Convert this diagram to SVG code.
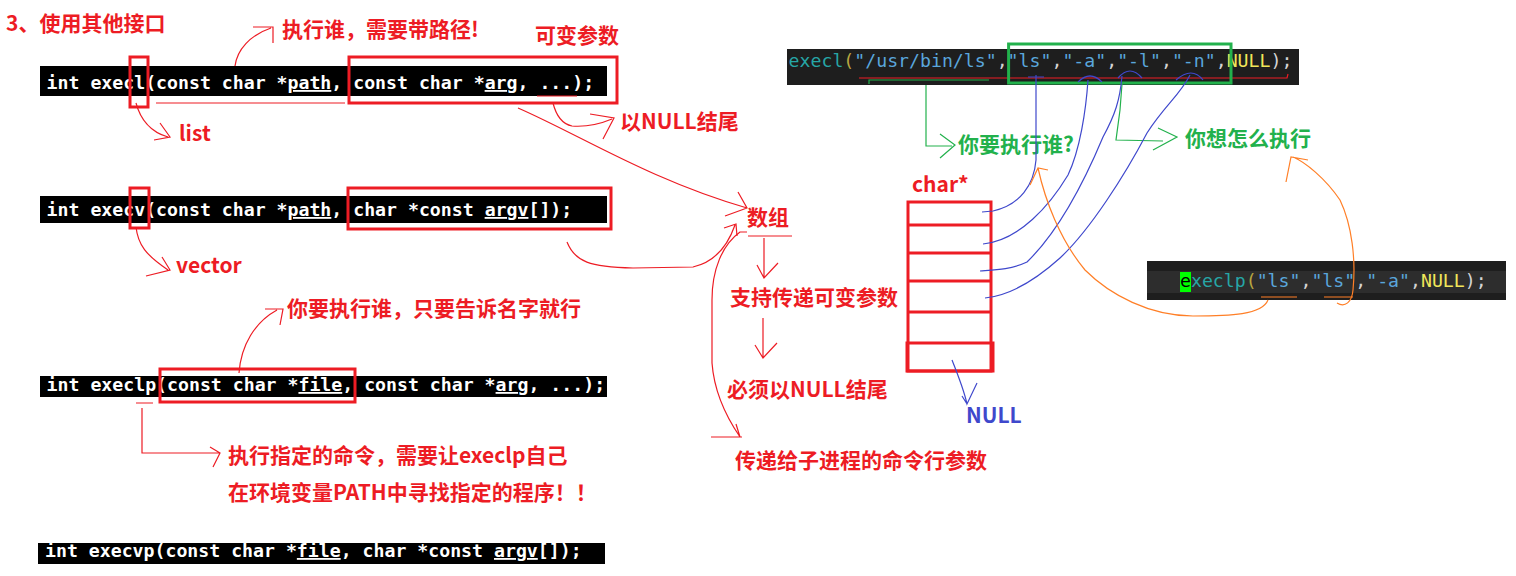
<svg xmlns="http://www.w3.org/2000/svg" width="1516" height="576" viewBox="0 0 1516 576">
<style>
.lbl{font-family:"Noto Sans CJK SC","Noto Sans",sans-serif;font-weight:700;font-size:21px;fill:#ed1c24}
.grn{fill:#22b14c}
.blu{fill:#3f48cc}
.code{font-family:"DejaVu Sans Mono",monospace;font-weight:700;font-size:18.2px;fill:#ffffff;white-space:pre}
.code2{font-family:"DejaVu Sans Mono",monospace;font-size:18.2px;white-space:pre}
.u{text-decoration:underline}
.bar{fill:#000000}
.rbox{fill:none;stroke:#ed1c24;stroke-width:3}
.gbox{fill:none;stroke:#22b14c;stroke-width:3}
.rl{fill:none;stroke:#ed1c24;stroke-width:1.2}
.gl{fill:none;stroke:#22b14c;stroke-width:1.2}
.bl{fill:none;stroke:#3f48cc;stroke-width:1.2}
.ol{fill:none;stroke:#ff7f27;stroke-width:1.2}
.fn{fill:#26a6a6}.pr{fill:#b8a640}.st{fill:#5aa6dc}.cm{fill:#d4d4d4}.nl{fill:#f0e65a}
</style>
<rect width="1516" height="576" fill="#ffffff"/>

<g id="title"><text class="lbl" x="6" y="31">3、使用其他接口</text></g>

<g id="execl">
<rect class="bar" x="40" y="66" width="567" height="30"/>
<text class="code" x="46.6" y="89">int execl(const char *<tspan class="u">path</tspan>, const char *<tspan class="u">arg</tspan>, ...);</text>
<rect class="rbox" x="130" y="57" width="18" height="50"/>
<rect class="rbox" x="349" y="57" width="268" height="46"/>
</g>
<g id="execv">
<rect class="bar" x="40" y="196" width="567" height="27"/>
<text class="code" x="46.6" y="216">int execv(const char *<tspan class="u">path</tspan>, char *const <tspan class="u">argv</tspan>[]);</text>
<rect class="rbox" x="130" y="188" width="19" height="40"/>
<rect class="rbox" x="348" y="188" width="263" height="41"/>
</g>
<g id="execlp">
<rect class="bar" x="40" y="376" width="567" height="21"/>
<text class="code" x="46.6" y="391">int execlp(const char *<tspan class="u">file</tspan>, const char *<tspan class="u">arg</tspan>, ...);</text>
<rect class="rbox" x="160" y="369" width="195" height="33"/>
</g>
<g id="execvp">
<rect class="bar" x="38" y="543" width="567" height="21"/>
<text class="code" x="45" y="557">int execvp(const char *<tspan class="u">file</tspan>, char *const <tspan class="u">argv</tspan>[]);</text>
</g>

<g id="labels-left">
<text class="lbl" x="282" y="37">执行谁，需要带路径!</text>
<text class="lbl" x="535" y="43">可变参数</text>
<text class="lbl" x="179" y="141">list</text>
<text class="lbl" x="620" y="129">以NULL结尾</text>
<text class="lbl" x="176" y="273">vector</text>
<text class="lbl" x="287" y="316">你要执行谁，只要告诉名字就行</text>
<text class="lbl" x="228" y="463">执行指定的命令，需要让execlp自己</text>
<text class="lbl" x="228" y="500">在环境变量PATH中寻找指定的程序！！</text>
</g>

<g id="array-notes">
<text class="lbl" x="747" y="225">数组</text>
<text class="lbl" x="730" y="305">支持传递可变参数</text>
<text class="lbl" x="727" y="397">必须以NULL结尾</text>
<text class="lbl" x="735" y="468">传递给子进程的命令行参数</text>
</g>

<g id="array">
<text class="lbl" x="912" y="192" font-size="19">char*</text>
<rect class="rbox" x="908" y="202" width="83" height="169"/>
<path class="rbox" d="M908,225H991M908,253H991M908,281H991M908,312H991"/>
<rect class="rbox" x="907" y="343" width="86" height="28"/>
<text class="lbl blu" x="966" y="423" font-size="20">NULL</text>
</g>

<g id="execl-example">
<rect x="787" y="49" width="512" height="36" fill="#1e1e1e"/>
<text class="code2" x="788.6" y="67"><tspan class="fn">execl</tspan><tspan class="pr">(</tspan><tspan class="st">"/usr/bin/ls"</tspan><tspan class="cm">,</tspan><tspan class="st">"ls"</tspan><tspan class="cm">,</tspan><tspan class="st">"-a"</tspan><tspan class="cm">,</tspan><tspan class="st">"-l"</tspan><tspan class="cm">,</tspan><tspan class="st">"-n"</tspan><tspan class="cm">,</tspan><tspan class="nl">NULL</tspan><tspan class="cm">);</tspan></text>
<path class="rl" d="M859,78L1287,78L1288,74"/>
<path class="gl" d="M869,84L869,80L989,80"/>
<rect class="gbox" x="1008.6" y="44" width="222.4" height="39"/>
<text class="lbl grn" x="958" y="152">你要执行谁?</text>
<text class="lbl grn" x="1185" y="146">你想怎么执行</text>
</g>

<g id="execlp-example">
<rect x="1147" y="261" width="359" height="39" fill="#1e1e1e"/>
<rect x="1147" y="271" width="359" height="22" fill="#2d2d2d"/>
<rect x="1180" y="272" width="11" height="20" fill="#00ff00"/>
<text class="code2" x="1180" y="287"><tspan fill="#000000">e</tspan><tspan class="fn">xeclp</tspan><tspan class="pr">(</tspan><tspan class="st">"ls"</tspan><tspan class="cm">,</tspan><tspan class="st">"ls"</tspan><tspan class="cm">,</tspan><tspan class="st">"-a"</tspan><tspan class="cm">,</tspan><tspan class="nl">NULL</tspan><tspan class="cm">);</tspan></text>
</g>

<g id="connectors">
<!-- red, left -->
<path class="rl" d="M235,66C237,50 250,35 271,28M253,27L273,27L273,43"/>
<path class="rl" d="M136,103C140,118 150,132 168,137M160,123L170,137L154,140"/>
<path class="rl" d="M156,103L345,103M537,96L577,96"/>
<path class="rl" d="M553,103C556,115 562,124 572,126C585,127 600,124 612,119M590,114L614,118L603,139"/>
<path class="rl" d="M518,108C580,135 650,180 747,208M738,192L747,208L725,216"/>
<path class="rl" d="M136,227C138,245 146,255 168,270M162,257L170,270L146,276"/>
<path class="rl" d="M567,242C575,262 590,267 633,268L693,267C715,262 728,245 735,225M724,228L736,224L737,236"/>
<path class="rl" d="M748,236L792,236"/>
<path class="rl" d="M764,238L764,278M757,265L764,278L778,263"/>
<path class="rl" d="M763,318L763,358M755,345L763,358L777,343"/>
<path class="rl" d="M747,232L740,232C722,245 712,270 712,300L712,363C714,390 725,415 740,437M736,424L740,437M711,437L742,437"/>
<path class="rl" d="M239,373C241,345 255,322 277,310M265,309L283,309L280,325"/>
<path class="rl" d="M136,403L153,403M142,408L142,453L220,453M210,447L220,453L213,467"/>
<!-- green -->
<path class="gl" d="M926,85L926,146L952,146M940,134L955,145L940,158"/>
<path class="gl" d="M1122,84L1120,110L1116,140L1163,141M1158,128L1177,137L1153,150"/>
<!-- blue -->
<path class="bl" d="M1028,77L1044,77M1036,75L1036,160C1034,185 1020,205 993,211L982,212"/>
<path class="bl" d="M1078,82Q1090,70 1102,82M1088,80C1086,110 1080,150 1068,175C1050,205 1020,240 983,244"/>
<path class="bl" d="M1118,78Q1130,64 1142,78M1122,76C1120,100 1115,115 1103,137C1085,180 1060,230 1027,262C1010,270 995,270 980,271"/>
<path class="bl" d="M1176,80Q1192,66 1203,80M1190,75C1180,95 1165,105 1147,133C1125,175 1090,230 1060,258C1030,285 1005,296 985,298"/>
<path class="bl" d="M952,360C958,375 964,390 967,404L977,383M962,396L967,404"/>
<!-- orange -->
<path class="ol" d="M1261,297L1297,297M1268,300C1262,315 1230,316 1193,316C1150,316 1110,295 1085,270C1060,240 1045,200 1038,168M1030,185L1038,168L1048,170"/>
<path class="ol" d="M1324,297L1353,297M1337,303C1345,308 1352,302 1353,290C1356,260 1352,225 1340,200C1325,178 1305,162 1293,157M1286,182L1291,157L1308,160"/>
</g>
</svg>
